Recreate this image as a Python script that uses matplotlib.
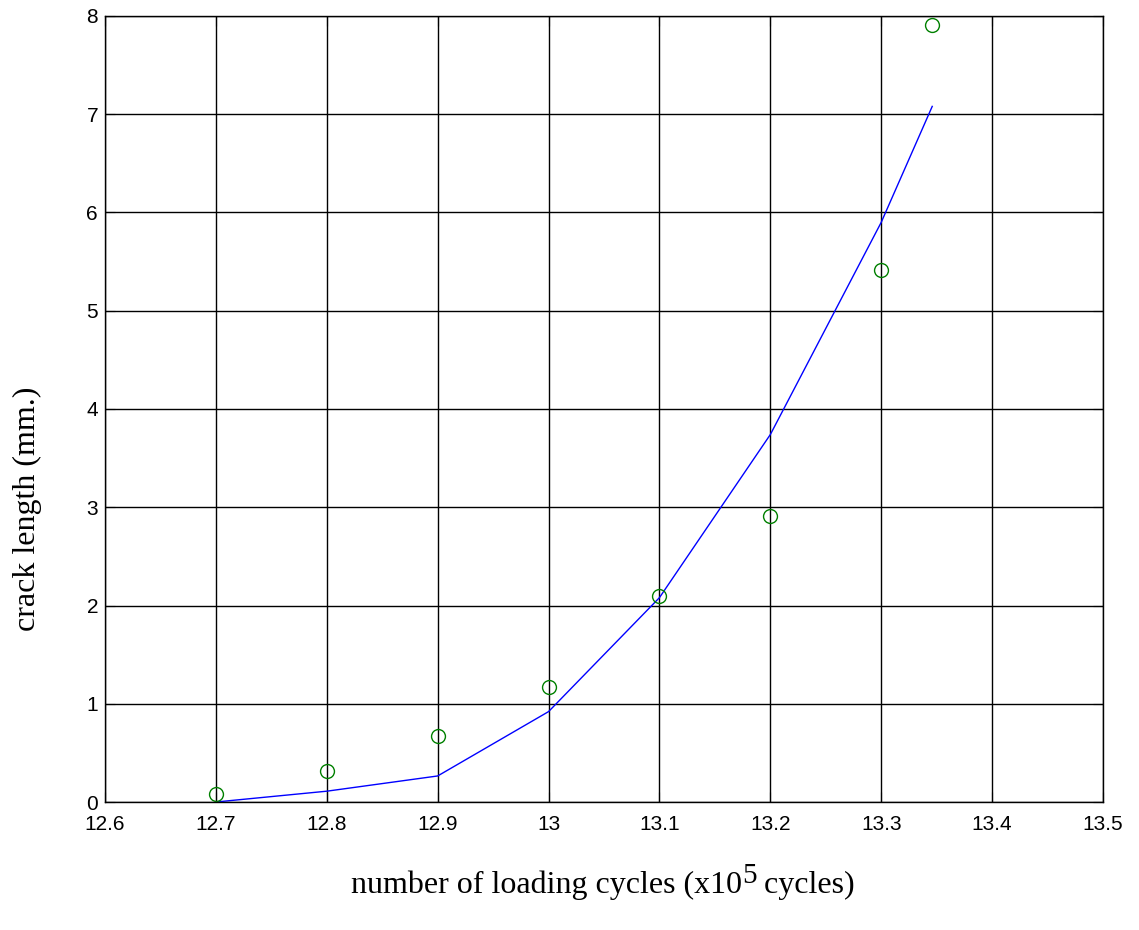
import matplotlib
matplotlib.use("Agg")
import matplotlib.pyplot as plt

# measured crack length (markers)
cycles_meas = [12.7, 12.8, 12.9, 13.0, 13.1, 13.2, 13.3, 13.346]
crack_meas = [0.08, 0.32, 0.67, 1.17, 2.10, 2.91, 5.41, 7.91]

# predicted curve (line)
cycles_pred = [12.7, 12.8, 12.9, 13.0, 13.1, 13.2, 13.3, 13.346]
crack_pred = [0.0, 0.11, 0.265, 0.92, 2.08, 3.74, 5.90, 7.08]

xticks = [12.6, 12.7, 12.8, 12.9, 13.0, 13.1, 13.2, 13.3, 13.4, 13.5]
xticklabels = ["12.6", "12.7", "12.8", "12.9", "13", "13.1", "13.2", "13.3", "13.4", "13.5"]
yticks = [0, 1, 2, 3, 4, 5, 6, 7, 8]

W, H = 1139, 930
fig = plt.figure(figsize=(W / 100, H / 100), dpi=100)
ax = fig.add_axes([105 / W, 1 - 802 / H, (1103 - 105) / W, (802 - 16) / H])

ax.plot(cycles_pred, crack_pred, color="blue", linewidth=1)
ax.plot(cycles_meas, crack_meas, "o", markerfacecolor="none", markeredgecolor="green",
        markersize=10, markeredgewidth=1)

ax.set_xlim(12.6, 13.5)
ax.set_ylim(0, 8)
ax.set_xticks(xticks)
ax.set_xticklabels(xticklabels)
ax.set_yticks(yticks)
ax.grid(True, color="black", linestyle="-", linewidth=1)
ax.set_axisbelow(True)
ax.tick_params(direction="in", top=True, right=True, length=7, labelsize=15)
ax.tick_params(axis="x", pad=9)
ax.tick_params(axis="y", pad=5)
for lab in ax.get_xticklabels() + ax.get_yticklabels():
    lab.set_family("Liberation Sans")
for s in ax.spines.values():
    s.set_linewidth(1)

# x label in pieces so the exponent keeps a large size like the original
fs = 23
y_base = 1 - 893 / H
parts = [("number of loading cycles (x10", 0, fs), ("5", 10, fs - 2), (" cycles)", 0, fs)]
fig.canvas.draw()
r = fig.canvas.get_renderer()
texts = []
for s, dy, size in parts:
    t = fig.text(0, y_base + dy / H, s, ha="left", va="baseline", fontsize=size,
                 family="Liberation Serif")
    texts.append(t)
widths = [t.get_window_extent(r).width for t in texts]
x = (603 - sum(widths) / 2) / W
for t, w in zip(texts, widths):
    t.set_x(x)
    x += w / W

fig.text(27 / W, 1 - 509 / H, "crack length (mm.)", rotation=90,
         ha="center", va="center", fontsize=fs, family="Liberation Serif")

fig.savefig("out.png", dpi=100)
